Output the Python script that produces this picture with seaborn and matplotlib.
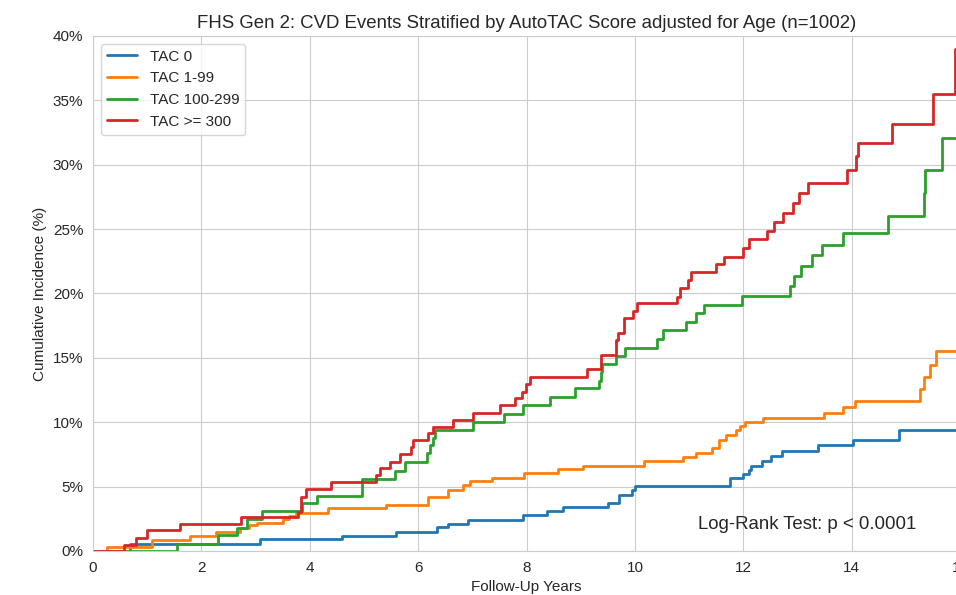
import numpy as np
import pandas as pd
import matplotlib
matplotlib.use("Agg")
import matplotlib.pyplot as plt
import matplotlib.ticker as mticker
import seaborn as sns

# step curves (years, cumulative incidence %)
groups = ["TAC 0", "TAC 1-99", "TAC 100-299", "TAC >= 300"]

tac0_t = [0, 0.68, 3.08, 4.6, 5.6, 6.34, 6.56, 6.92, 7.93, 8.37, 8.67, 9.51, 9.71, 9.94,
          10.01, 11.75, 11.99, 12.1, 12.15, 12.34, 12.52, 12.71, 13.38, 14.03, 14.88, 16.0]
tac0_y = [0, 0.55, 0.9, 1.2, 1.5, 1.85, 2.1, 2.4, 2.8, 3.1, 3.4, 3.75, 4.35, 4.7,
          5.05, 5.65, 6.0, 6.3, 6.6, 7.0, 7.35, 7.75, 8.2, 8.6, 9.4, 9.4]

tac1_t = [0, 0.25, 1.08, 1.79, 2.27, 2.72, 2.88, 3.02, 3.5, 3.62, 3.75, 4.34, 5.41, 6.19,
          6.56, 6.83, 6.96, 7.36, 7.95, 8.58, 9.05, 10.17, 10.88, 11.13, 11.43, 11.56,
          11.68, 11.86, 11.94, 12.03, 12.36, 13.49, 13.84, 14.06, 15.27, 15.33, 15.44,
          15.55, 16.0]
tac1_y = [0, 0.28, 0.88, 1.18, 1.5, 1.75, 2.0, 2.2, 2.45, 2.7, 2.95, 3.3, 3.57, 4.2,
          4.75, 5.1, 5.45, 5.7, 6.03, 6.34, 6.6, 7.0, 7.27, 7.6, 7.97, 8.65,
          9.0, 9.4, 9.68, 10.05, 10.3, 10.75, 11.2, 11.67, 12.56, 13.5, 14.45,
          15.5, 15.5]

tac2_t = [0, 1.55, 2.31, 2.66, 2.84, 3.11, 3.85, 4.13, 4.96, 5.57, 5.76, 6.16, 6.22, 6.27,
          6.31, 7.02, 7.58, 7.94, 8.43, 8.89, 9.34, 9.37, 9.39, 9.65, 9.82, 10.4, 10.52,
          10.95, 11.13, 11.27, 11.97, 12.87, 12.94, 13.06, 13.26, 13.46, 13.84, 14.67,
          15.34, 15.36, 15.66, 16.0]
tac2_y = [0, 0.55, 1.22, 1.81, 2.46, 3.1, 3.72, 4.3, 5.6, 6.2, 6.88, 7.6, 8.23, 8.8,
          9.38, 10.0, 10.67, 11.34, 11.98, 12.63, 13.2, 13.9, 14.5, 15.15, 15.8, 16.44, 17.16,
          17.8, 18.46, 19.1, 19.83, 20.58, 21.36, 22.12, 23.0, 23.78, 24.73, 26.0,
          27.8, 29.6, 32.05, 32.05]

tac3_t = [0, 0.57, 0.79, 0.99, 1.6, 2.74, 3.78, 3.84, 3.93, 4.4, 5.23, 5.3, 5.48, 5.66,
          5.86, 5.91, 6.19, 6.28, 6.65, 7.02, 7.51, 7.79, 7.91, 7.99, 8.06, 9.12, 9.37,
          9.66, 9.69, 9.8, 9.96, 10.04, 10.77, 10.83, 10.98, 11.03, 11.49, 11.65, 12.0,
          12.11, 12.43, 12.56, 12.74, 12.92, 13.03, 13.2, 13.92, 14.08, 14.12, 14.75,
          15.5, 15.9, 16.0]
tac3_y = [0, 0.47, 1.0, 1.6, 2.1, 2.66, 3.0, 4.2, 4.8, 5.36, 5.9, 6.42, 6.94, 7.55,
          8.05, 8.62, 9.14, 9.66, 10.2, 10.75, 11.34, 11.86, 12.37, 12.95, 13.54, 14.14, 15.2,
          16.39, 16.96, 18.07, 18.67, 19.29, 19.75, 20.4, 21.05, 21.64, 22.27, 22.86, 23.5,
          24.2, 24.88, 25.55, 26.28, 27.05, 27.78, 28.6, 29.6, 30.68, 31.67, 33.14,
          35.47, 39.0, 39.0]

frames = []
for g, t, y in zip(groups, [tac0_t, tac1_t, tac2_t, tac3_t], [tac0_y, tac1_y, tac2_y, tac3_y]):
    frames.append(pd.DataFrame({"years": t, "incidence": y, "group": g}))
df = pd.concat(frames, ignore_index=True)

sns.set_style("whitegrid")
plt.rcParams["font.family"] = ["Liberation Sans", "DejaVu Sans"]

fig = plt.figure(figsize=(9.56, 5.95), dpi=100)
# axes run a little past the right edge, as in the (cropped) reference
ax = fig.add_axes([0.0973, 0.0740, 0.9069, 0.8655])

sns.lineplot(data=df, x="years", y="incidence", hue="group", hue_order=groups,
             palette="tab10", estimator=None, drawstyle="steps-post", linewidth=2.0, ax=ax)

ax.set_xlim(0, 16)
ax.set_ylim(0, 40)
ax.yaxis.set_major_formatter(mticker.PercentFormatter(xmax=100, decimals=0))
ax.set_title("FHS Gen 2: CVD Events Stratified by AutoTAC Score adjusted for Age (n=1002)",
             fontsize=13.4)
ax.set_xlabel("Follow-Up Years", fontsize=11)
ax.set_ylabel("Cumulative Incidence (%)", fontsize=11)
ax.tick_params(labelsize=11)
ax.legend(loc="upper left", title=None, fontsize=11)

ax.text(0.95, 0.035, "Log-Rank Test: p < 0.0001", transform=ax.transAxes,
        ha="right", va="bottom", fontsize=13.4)

fig.savefig("out.png", dpi=100)
